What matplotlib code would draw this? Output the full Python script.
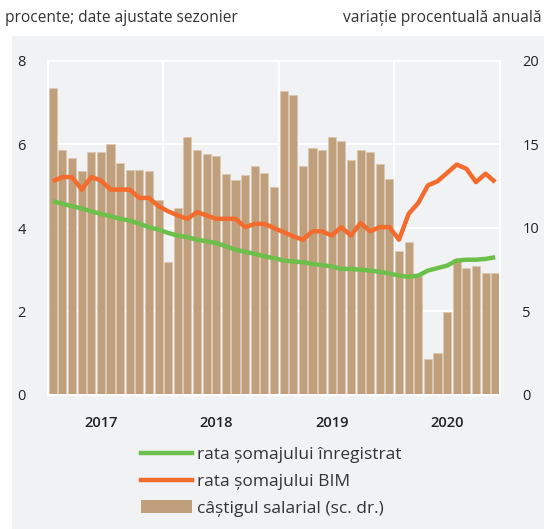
import matplotlib
matplotlib.use("Agg")
import matplotlib.pyplot as plt
from matplotlib.patches import Rectangle, Patch
from matplotlib.lines import Line2D
import numpy as np

plt.rcParams['font.family'] = ['Open Sans', 'DejaVu Sans']

years = ["2017", "2018", "2019", "2020"]
# monthly, Jan 2017 - Nov 2020
salary_growth = [18.36, 14.67, 14.17, 13.41, 14.53, 14.53, 15.05, 13.87, 13.47, 13.47, 13.43, 11.68,
                 7.98, 11.22, 15.45, 14.67, 14.43, 14.31, 13.25, 12.89, 13.15, 13.71, 13.29, 12.48,
                 18.2, 17.94, 13.71, 14.81, 14.69, 15.47, 15.19, 14.05, 14.67, 14.55, 13.85, 12.95,
                 8.62, 9.16, 7.13, 2.16, 2.51, 4.95, 8.14, 7.60, 7.74, 7.29, 7.29]
bim_rate = [5.12, 5.22, 5.22, 4.92, 5.22, 5.14, 4.92, 4.92, 4.92, 4.72, 4.72, 4.52,
            4.40, 4.30, 4.22, 4.38, 4.30, 4.22, 4.22, 4.22, 4.02, 4.10, 4.10, 4.00,
            3.90, 3.80, 3.72, 3.92, 3.92, 3.82, 4.02, 3.82, 4.12, 3.92, 4.02, 4.02,
            3.72, 4.34, 4.60, 5.02, 5.12, 5.32, 5.52, 5.42, 5.10, 5.30, 5.10]
registered_rate = [4.64, 4.58, 4.52, 4.47, 4.40, 4.34, 4.28, 4.22, 4.18, 4.10, 4.02, 3.96,
                   3.88, 3.82, 3.78, 3.72, 3.68, 3.64, 3.56, 3.48, 3.43, 3.38, 3.32, 3.28,
                   3.22, 3.20, 3.18, 3.14, 3.11, 3.08, 3.02, 3.02, 3.00, 2.98, 2.95, 2.91,
                   2.86, 2.83, 2.86, 2.98, 3.04, 3.10, 3.22, 3.24, 3.24, 3.26, 3.30]
left_ticks = [0, 2, 4, 6, 8]
right_ticks = [0, 5, 10, 15, 20]

BG = '#f1f2f4'
BAR = '#c09f7c'
GREEN = '#6dbf4b'
ORANGE = '#f36c2e'

W, H = 544, 529
fig = plt.figure(figsize=(W/100, H/100), dpi=100)
fig.patches.append(Rectangle((12/W, 0), 1 - 12/W, (H-36)/H, transform=fig.transFigure,
                             facecolor=BG, edgecolor='none', zorder=-10))

ax = fig.add_axes([48/W, (H-395)/H, (500-48)/W, (395-61)/H])
ax.set_facecolor(BG)
ax2 = ax.twinx()

n = len(salary_growth)
x = np.arange(n)
ax2.bar(x, salary_growth, width=0.84, color=BAR, edgecolor='#dcc8b2', linewidth=0.5, zorder=2)
ax2.set_ylim(0, 20)
ax2.set_yticks(right_ticks)

ax.set_zorder(ax2.get_zorder() + 1)
ax.patch.set_visible(False)
ax2.set_facecolor(BG)
ax2.patch.set_visible(True)

ax.plot(x, registered_rate, color=GREEN, lw=3.2, solid_capstyle='butt', zorder=3)
ax.plot(x, bim_rate, color=ORANGE, lw=3.2, solid_capstyle='butt', zorder=4)
ax.set_ylim(0, 8)
ax.set_yticks(left_ticks)
ax.set_xlim(-0.5, n - 0.5)

# gridlines drawn on bar axes (behind bars)
for yv in [5, 10, 15]:
    ax2.axhline(yv, color='white', lw=1.5, zorder=1)
for xv in [11.5, 23.5, 35.5]:
    ax2.axvline(xv, color='white', lw=1.5, zorder=1)

ax.set_xticks([5, 17, 29, 41])
ax.set_xticklabels(years, fontweight='semibold')
for a in (ax, ax2):
    for s in a.spines.values():
        s.set_color('white')
        s.set_linewidth(1.2)
    a.tick_params(length=0, labelsize=10.5, colors='#222222')
ax.tick_params(axis='y', pad=16)
ax2.tick_params(axis='y', pad=16)
ax.tick_params(axis='x', pad=15)

fig.text(5/W, 1 - 18/H, "procente; date ajustate sezonier", fontsize=11.2, color='#333333',
         ha='left', va='center')
fig.text(542/W, 1 - 18/H, "variație procentuală anuală", fontsize=11.2, color='#333333',
         ha='right', va='center')

handles = [Line2D([], [], color=GREEN, lw=3.2),
           Line2D([], [], color=ORANGE, lw=3.2),
           Patch(facecolor=BAR, edgecolor='none')]
labels = ["rata șomajului înregistrat", "rata șomajului BIM", "câștigul salarial (sc. dr.)"]
fig.legend(handles, labels, loc='upper left', bbox_to_anchor=(125/W, 1 - 431/H), frameon=False,
           fontsize=12.5, handlelength=2.95, handletextpad=0.3, labelspacing=0.62,
           labelcolor='#333333')

fig.savefig("out.png", dpi=100)
